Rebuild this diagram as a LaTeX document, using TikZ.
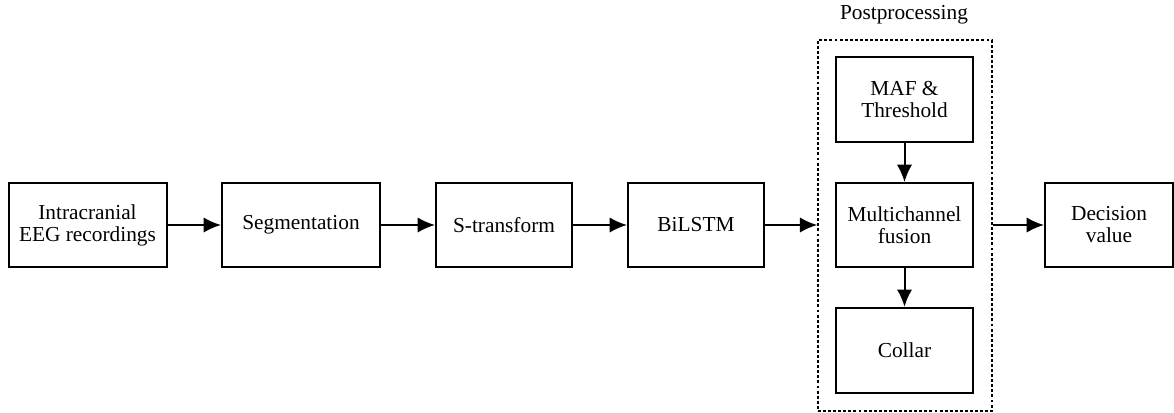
\documentclass[tikz,border=0pt]{standalone}
\usepackage{fontspec}
\setmainfont{Liberation Serif}
\usetikzlibrary{arrows.meta}
\tikzset{
  >={Latex[length=13pt,width=11.5pt]},
}
\tikzstyle{block}=[draw, line width=1.5pt, align=center, inner sep=2pt]
\tikzstyle{flow}=[line width=1.5pt,->]
\tikzstyle{every node}=[font=\fontsize{16}{16.5}\selectfont]

\begin{document}
\begin{tikzpicture}[x=0.75pt,y=-0.75pt]
    \useasboundingbox (0,0) rectangle (1174,412);
    \node[block, minimum width=118.5pt, minimum height=63pt] (eeg) at (87.5,225) {Intracranial\\EEG recordings};
    \node[block, minimum width=118.5pt, minimum height=63pt] (seg) at (301,225) {Segmentation};
    \node[block, minimum width=102pt, minimum height=63pt] (st) at (504,225) {S-transform};
    \node[block, minimum width=102pt, minimum height=63pt] (bilstm) at (696,225) {BiLSTM};
    \node[draw, line width=1.1pt, dash pattern=on 2.2pt off 1.6pt, minimum width=130.5pt, minimum height=278pt] (post) at (905,225.5) {};
    \node (posttitle) at (904,15) {Postprocessing};
    \node[block, minimum width=103pt, minimum height=64pt] (maf) at (904.5,99.5) {MAF \&\\Threshold};
    \node[block, minimum width=103pt, minimum height=63pt] (fusion) at (904.5,225) {Multichannel\\fusion};
    \node[block, minimum width=103pt, minimum height=64pt] (collar) at (904.5,350.5) {Collar};
    \node[block, minimum width=96pt, minimum height=63pt] (dec) at (1109,225) {Decision\\value};
    \draw[flow] (eeg) -- (seg);
    \draw[flow] (seg) -- (st);
    \draw[flow] (st) -- (bilstm);
    \draw[flow] (bilstm) -- (bilstm -| post.west);
    \draw[flow] (maf) -- (fusion);
    \draw[flow] (fusion) -- (collar);
    \draw[flow] (post.east |- dec.west) -- (dec);
  \end{tikzpicture}
\end{document}
